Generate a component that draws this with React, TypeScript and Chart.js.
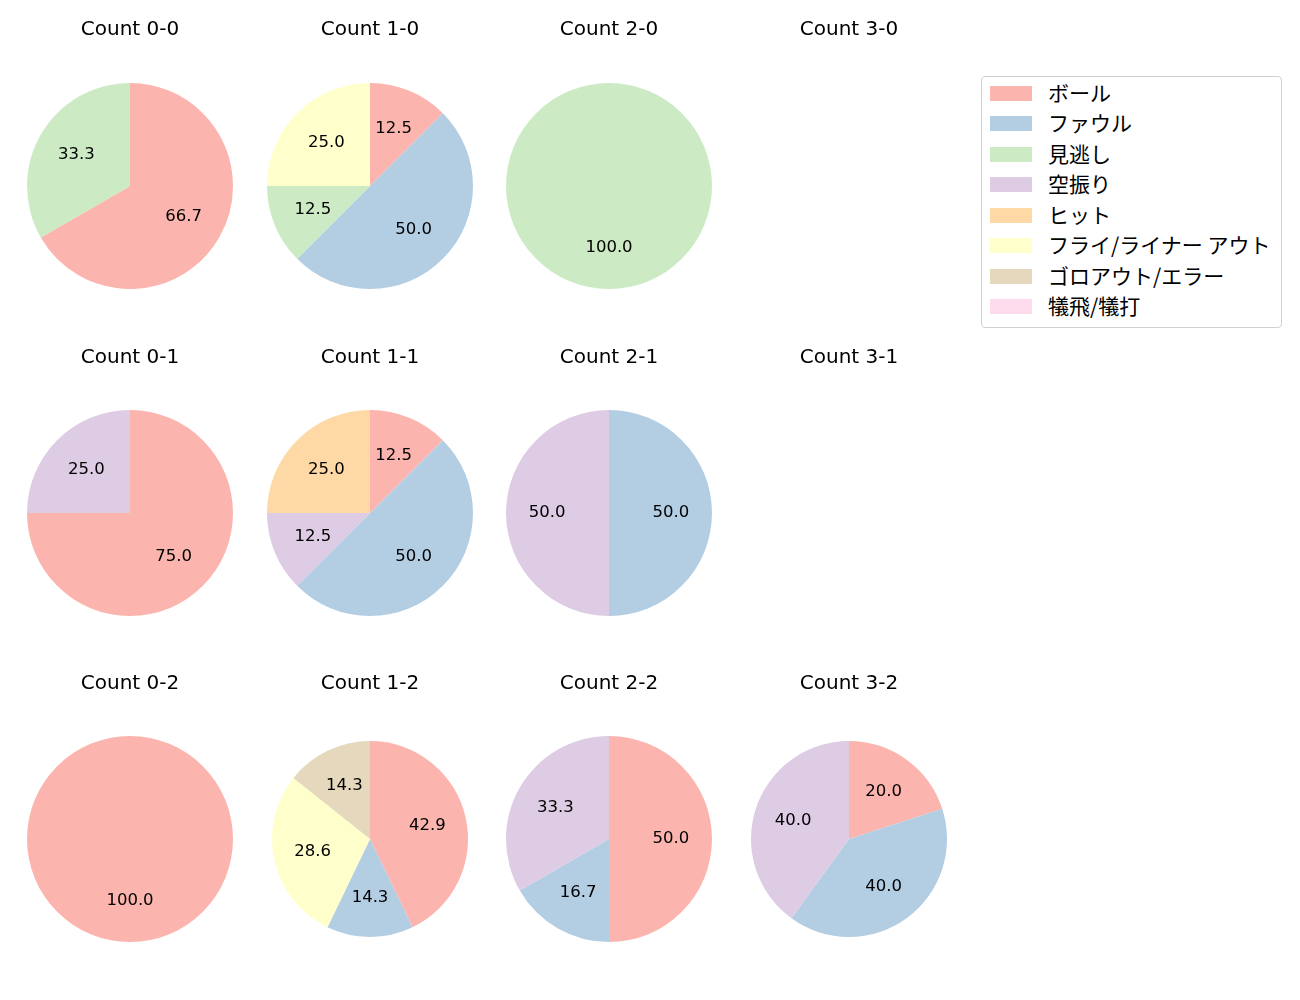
import React, { useEffect, useRef } from 'react';
import { Chart, PieController, ArcElement } from 'chart.js';

Chart.register(PieController, ArcElement);

const FONT = '"DejaVu Sans", "Noto Sans CJK JP", sans-serif';
const CJK_FONT = '"Noto Sans CJK JP", "DejaVu Sans", sans-serif';

const categories = ['ボール', 'ファウル', '見逃し', '空振り', 'ヒット', 'フライ/ライナー アウト', 'ゴロアウト/エラー', '犠飛/犠打'];
const colors = ['#fbb4ae', '#b3cde3', '#ccebc5', '#decbe4', '#fed9a6', '#ffffcc', '#e5d8bd', '#fddaec'];

const titles = [
  'Count 0-0', 'Count 1-0', 'Count 2-0', 'Count 3-0',
  'Count 0-1', 'Count 1-1', 'Count 2-1', 'Count 3-1',
  'Count 0-2', 'Count 1-2', 'Count 2-2', 'Count 3-2',
];

// pitch counts per category (same order as categories)
const count00 = [2, 0, 1, 0, 0, 0, 0, 0];
const count10 = [1, 4, 1, 0, 0, 2, 0, 0];
const count20 = [0, 0, 1, 0, 0, 0, 0, 0];
const count30 = [0, 0, 0, 0, 0, 0, 0, 0];
const count01 = [3, 0, 0, 1, 0, 0, 0, 0];
const count11 = [1, 4, 0, 1, 2, 0, 0, 0];
const count21 = [0, 1, 0, 1, 0, 0, 0, 0];
const count31 = [0, 0, 0, 0, 0, 0, 0, 0];
const count02 = [1, 0, 0, 0, 0, 0, 0, 0];
const count12 = [3, 1, 0, 0, 0, 2, 1, 0];
const count22 = [3, 1, 0, 2, 0, 0, 0, 0];
const count32 = [1, 2, 0, 2, 0, 0, 0, 0];

const countData = [
  count00, count10, count20, count30,
  count01, count11, count21, count31,
  count02, count12, count22, count32,
];

const pieRadius = [103, 103, 103, 103, 103, 103, 103, 103, 103, 98, 103, 98];

const colCenters = [129.5, 369.5, 609, 849];
const rowCenters = [186, 512.5, 839];
const rowTitles = [30, 357, 684];

const CW = 240;
const CH = 360;

const labelPlugin = {
  id: 'pieLabels',
  afterDatasetsDraw(chart: any, _args: any, opts: any) {
    const ctx = chart.ctx;
    const meta = chart.getDatasetMeta(0);
    const data = chart.data.datasets[0].data as number[];
    const total = data.reduce((a: number, b: number) => a + b, 0);
    ctx.save();
    ctx.fillStyle = '#000';
    ctx.font = `${opts.labelSize}px ${FONT}`;
    ctx.textAlign = 'center';
    ctx.textBaseline = 'middle';
    if (total > 0) {
      meta.data.forEach((arc: any, i: number) => {
        if (!data[i]) return;
        const p = arc.getProps(['x', 'y', 'startAngle', 'endAngle', 'outerRadius'], true);
        const mid = (p.startAngle + p.endAngle) / 2;
        const r = p.outerRadius * 0.6;
        ctx.fillText(((data[i] / total) * 100).toFixed(1), p.x + Math.cos(mid) * r, p.y + Math.sin(mid) * r);
      });
    }
    ctx.font = `${opts.titleSize}px ${FONT}`;
    ctx.fillText(opts.title, CW / 2, opts.titleY);
    ctx.restore();
  },
};

function PieCell({ idx }: { idx: number }) {
  const ref = useRef<HTMLCanvasElement | null>(null);
  const col = idx % 4;
  const row = Math.floor(idx / 4);
  const top = rowCenters[row] - CH / 2;
  const left = colCenters[col] - CW / 2;
  useEffect(() => {
    const chart = new Chart(ref.current as HTMLCanvasElement, {
      type: 'pie',
      data: {
        labels: categories,
        datasets: [{
          data: countData[idx],
          backgroundColor: colors,
          borderWidth: 0,
          radius: pieRadius[idx],
        } as any],
      },
      options: {
        responsive: false,
        animation: false,
        devicePixelRatio: 1,
        events: [],
        layout: { padding: 0 },
        plugins: {
          legend: { display: false },
          tooltip: { enabled: false },
          pieLabels: { title: titles[idx], titleY: rowTitles[row] - top, titleSize: 20, labelSize: 16.5 },
        } as any,
      },
      plugins: [labelPlugin],
    });
    return () => chart.destroy();
  }, [idx]);
  return (
    <canvas
      ref={ref}
      width={CW}
      height={CH}
      style={{ position: 'absolute', left, top, width: CW, height: CH }}
    />
  );
}

export default function App() {
  useEffect(() => {
    document.body.style.margin = '0';
  }, []);
  return (
    <div style={{ position: 'relative', width: 1300, height: 1000, background: '#fff', overflow: 'hidden' }}>
      {titles.map((_, i) => <PieCell key={i} idx={i} />)}
      <div
        style={{
          position: 'absolute', left: 981, top: 76, width: 299, height: 250,
          border: '1px solid #d0d0d0', borderRadius: 4, background: 'rgba(255,255,255,0.8)',
          fontFamily: CJK_FONT, fontSize: 21, color: '#000',
        }}
      >
        {categories.map((c, i) => (
          <div key={c} style={{ position: 'absolute', left: 0, top: 16 + i * 30.57 - 15, height: 30, width: 299 }}>
            <div style={{ position: 'absolute', left: 8, top: 7.5, width: 42, height: 15, background: colors[i] }} />
            <div style={{ position: 'absolute', left: 66, top: -1.5, height: 30, lineHeight: '30px', whiteSpace: 'nowrap' }}>{c}</div>
          </div>
        ))}
      </div>
    </div>
  );
}
